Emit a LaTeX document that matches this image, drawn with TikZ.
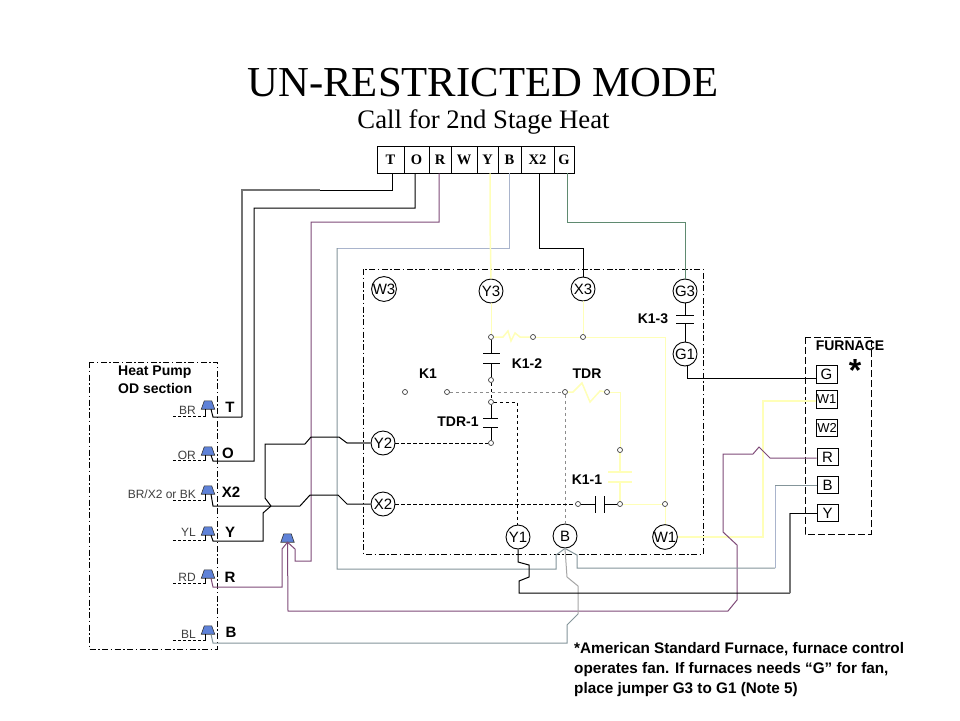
\documentclass[tikz,border=0pt]{standalone}
\usepackage{fontspec}
\setmainfont{Liberation Serif}
\setsansfont{Liberation Sans}
\definecolor{wyel}{HTML}{FFFFB8}
\definecolor{wpur}{HTML}{7F4A78}
\definecolor{wgry}{HTML}{84959A}
\definecolor{wblu}{HTML}{A9B4CC}
\definecolor{wgrn}{HTML}{5F8A70}
\definecolor{pinb}{HTML}{5F82D8}
\tikzset{
  wire/.style={line width=1pt,line join=miter},
  ywire/.style={line width=1.5pt,color=wyel},
  thick gray/.style={line width=1.5pt,color=black!55},
  cell/.style={draw,line width=0.9pt,inner sep=0pt,minimum height=27pt,font=\rmfamily\bfseries\fontsize{14.5}{14.5}\selectfont},
  conn/.style={circle,draw,fill=white,line width=0.9pt,inner sep=0pt,minimum size=24pt,font=\sffamily\fontsize{15}{15}\selectfont},
  contact/.style={circle,draw=black!75,fill=white,line width=0.7pt,inner sep=0pt,minimum size=5pt},
  fbox/.style={draw,line width=1pt,fill=white,inner sep=0pt,minimum width=21pt,minimum height=17.5pt,font=\sffamily\fontsize{15}{15}\selectfont},
  smallbox/.style={fbox,font=\sffamily\fontsize{13}{13}\selectfont},
  pinshape/.style={inner sep=0pt,minimum width=13pt,minimum height=8pt},
  pinfill/.style={draw=black!80,fill=pinb,line width=0.6pt},
  lab/.style={font=\sffamily\bfseries\fontsize{14}{18}\selectfont,inner sep=0pt},
  tlab/.style={font=\sffamily\bfseries\fontsize{15}{15}\selectfont,inner sep=0pt},
  wirelab/.style={font=\sffamily\fontsize{12}{12}\selectfont,color=black!75,inner sep=0pt,anchor=east},
  dashdot/.style={line width=0.8pt,dash pattern=on 6pt off 2.5pt on 1.5pt off 2.5pt},
  dashline/.style={line width=0.8pt,dash pattern=on 3.5pt off 2.5pt},
  gdash/.style={dashline,color=black!45},
  plate/.style={line width=1pt}
}
\begin{document}
\begin{tikzpicture}[x=1pt,y=-1pt]
\useasboundingbox (0,0) rectangle (960,720);
\fill[white] (0,0) rectangle (960,720);
% titles
\node[font=\rmfamily\fontsize{42.7}{42.7}\selectfont,inner sep=0pt] (title) at (483,83) {UN-RESTRICTED MODE};
\node[font=\rmfamily\fontsize{26.7}{26.7}\selectfont,inner sep=0pt] (subtitle) at (483.5,122) {Call for 2nd Stage Heat};
% outlines
\draw[dashdot] (363.5,269) rectangle (703,554);
\draw[dashdot] (89,362) rectangle (217,649);
\draw[line width=0.8pt,dash pattern=on 7pt off 3pt] (805,337) rectangle (871,534);
% thermostat strip
\node[cell,minimum width=27pt] (tT) at (390.5,159.5) {T};
\node[cell,minimum width=25pt] (tO) at (416.5,159.5) {O};
\node[cell,minimum width=22pt] (tR) at (440,159.5) {R};
\node[cell,minimum width=26pt] (tW) at (464,159.5) {W};
\node[cell,minimum width=21pt] (tY) at (487.5,159.5) {Y};
\node[cell,minimum width=23pt] (tB) at (509.5,159.5) {B};
\node[cell,minimum width=33pt] (tX) at (537.5,159.5) {X2};
\node[cell,minimum width=20pt] (tG) at (564,159.5) {G};
% circles
\node[conn] (W3) at (384,289) {W3};
\node[conn] (Y3) at (491,291) {Y3};
\node[conn] (X3) at (583,289) {X3};
\node[conn] (G3) at (685,291) {G3};
\node[conn] (G1) at (685,354) {G1};
\node[conn] (Y2) at (383,443) {Y2};
\node[conn] (X2) at (383,504) {X2};
\node[conn] (Y1) at (518,537) {Y1};
\node[conn] (B) at (565,536) {B};
\node[conn] (W1) at (665,537) {W1};
% furnace
\node[fbox] (fG) at (826.5,374.5) {G};
\node[smallbox] (fW1) at (826.5,399.5) {W1};
\node[smallbox] (fW2) at (827,428) {W2};
\node[fbox] (fR) at (827.5,457) {R};
\node[fbox] (fB) at (827.5,485) {B};
\node[fbox] (fY) at (827.5,513) {Y};
% pins
\foreach \n/\y in {T/405,O/451,X/490,Y/531,R/574,B/630,F/538}{
  \pgfmathsetmacro{\px}{ifthenelse(\y==538,287.5,208)}
  \node[pinshape] (p\n) at (\px,\y) {};
  \draw[pinfill] (p\n.south west) -- ([xshift=3pt]p\n.north west) -- ([xshift=-3pt]p\n.north east) -- (p\n.south east) -- cycle;
}
\foreach \n/\yy in {T/416,O/460,X/500,Y/540,R/583,B/640}{
  \coordinate (d\n) at (173,\yy);
  \draw[line width=0.7pt] ([xshift=-2.5pt]p\n.south) -- ([xshift=-2.5pt]p\n.south |- d\n);
  \draw[line width=0.7pt,dash pattern=on 3pt off 2pt] (d\n) -- ([xshift=-2.5pt]p\n.south |- d\n);
}
% contacts
\node[contact] (c1) at (491,337) {};
\node[contact] (c2) at (533,337) {};
\node[contact] (c3) at (583,337) {};
\node[contact] (c4) at (491,380) {};
\node[contact] (c5) at (491,402) {};
\node[contact] (c6) at (491,443) {};
\node[contact] (k1a) at (405,392) {};
\node[contact] (k1b) at (447,392) {};
\node[contact] (d1) at (565,392) {};
\node[contact] (d2) at (607,392) {};
\node[contact] (e1) at (620,450) {};
\node[contact] (e2) at (620,504) {};
\node[contact] (e3) at (578,504) {};
\node[contact] (e4) at (665,504) {};
% top wires
\draw[wire] ([xshift=1.5pt]tT.south) -- (392,190) -- (320,190);
\draw[thick gray] (320,190) -- (242,190) -- (242,417);
\draw[wire] (242,417) -- (213,417) -- ([xshift=3pt]pT.south);
\draw[wire] ([xshift=-1.5pt]tO.south) -- (415,208) -- (254,208) -- (254,461) -- (213,461) -- ([xshift=3pt]pO.south);
\draw[wire,color=wpur] ([xshift=-1pt]tR.south) -- (439,222) -- (311,222) -- (311,561) -- (295,561) -- (295,549) -- (pF.south) -- (282,549) -- (282,587) -- (213,587) -- ([xshift=3pt]pR.south);
\draw[wire,color=wblu] (tB.south) -- (509.5,248) -- (337,248);
\draw[wire,color=wgry] (337,248) -- (337,569) -- (556,569) -- (556,555) -- (B.south);
\draw[wire] ([xshift=1.5pt]tX.south) -- (539,248) -- (583,248) -- (X3.north);
\draw[wire,color=wgrn] ([xshift=3pt]tG.south) -- (567,222) -- (685,222) -- (G3.north);
\draw[ywire] ([xshift=2.5pt]tY.south) -- (490,222) -- (Y3.north);
% yellow circuit
\draw[ywire,line width=1pt] (Y3.south) -- (c1);
\draw[ywire,line width=1pt] (X3.south) -- (c3);
\draw[ywire] (c1) -- (503,337) -- (508,331) -- (511,341) -- (515,333) -- (520,337) -- (c2);
\draw[ywire,line width=1pt] (c2) -- (c3) -- (665,337) -- (e4);
\draw[ywire,line width=1pt] (e4) -- (W1.north);
\draw[ywire,line width=1pt] (e2) -- (e4);
\draw[ywire] (d1) -- (573,392) -- (582,383) -- (590,402) -- (600,391) -- (d2);
\draw[ywire,line width=1pt] (d2) -- (620,392) -- (e1);
\draw[ywire] (e1) -- (620,472) (620,482) -- (e2);
\draw[ywire] (608,472) -- (632,472) (608,482) -- (632,482);
\draw[ywire] (W1.east) -- (763,537) -- (763,401) -- ([yshift=-1.5pt]fW1.west);
% K1-3
\draw[plate] (G3.south) -- (685,315);
\draw[plate] (676,315) -- (694,315);
\draw[plate] (676,323) -- (694,323);
\draw[plate] (685,323) -- (G1.north);
% K1-2
\draw[plate] (c1) -- (491,353);
\draw[plate] (483,353) -- (500,353);
\draw[plate] (483,363) -- (500,363);
\draw[plate] (491,363) -- (c4);
% TDR-1
\draw[dashline] (c4) -- (c5);
\draw[plate] (c5) -- (491,418);
\draw[plate] (483,418) -- (498,418);
\draw[plate] (483,427) -- (498,427);
\draw[plate] (491,427) -- (c6);
\draw[dashline] (Y2.east) -- (c6);
\draw[dashline] (c5) -- (517,402) -- (517,525);
% K1, TDR dashes
\draw[gdash] (k1b) -- (d1);
\draw[gdash] (d1) -- (B.north);
% K1-1
\draw[dashline] (X2.east) -- (e3);
\draw[plate] (e3) -- (595,504);
\draw[plate] (595,496) -- (595,513);
\draw[plate] (604,496) -- (604,513);
\draw[plate] (604,504) -- (e2);
% G1 to furnace
\draw[wire] ([xshift=2pt]G1.south) -- (687,378) -- ([yshift=-3.5pt]fG.west);
% Y2 / X2 crossing to the heat pump
\draw[thick gray] (Y2.west) -- (347,443);
\draw[wire] (347,443) -- (339,437) -- (311,437) -- (305,444) -- (265,444) -- (265,498) -- (271,506);
\draw[wire] (X2.west) -- (347,504) -- (338,495) -- (310,495) -- (300,506) -- (213,506) -- ([xshift=3pt]pX.south);
\draw[wire] ([xshift=3pt]pY.south) -- (213,541) -- (263,541) -- (263,513) -- (271,506);
% jumper to furnace R
\draw[wire,color=wpur] (pF.south) -- (288,611) -- (728,611) -- (737,600) -- (737,545) -- (723,532) -- (723,454) -- (753,454) -- (759,447) -- (770,458) -- ([yshift=-1pt]fR.west);
% B wires
\draw[wire,color=wgry] (B.south) -- (577,555) -- (577,568) -- (775,568);
\draw[wire,color=wblu] (775,568) -- (775,485);
\draw[wire,color=wgry] (775,485) -- (fB.west);
\draw[wire,color=black!35] (B.south) -- (567,577) -- (578,586) -- (578,614);
\draw[wire,color=wgry] (578,614) -- (567,625) -- (567,643) -- (213,643) -- ([xshift=3pt]pB.south);
% Y1 wire
\draw[wire] (Y1.south) -- (518,562) -- (529,565) -- (529,577) -- (519,581) -- (519,593) -- (790,593);
\draw[thick gray] (790,593) -- (790,513);
\draw[wire] (790,513) -- (fY.west);
% labels
\node[lab,align=left,anchor=north west] (hp) at (118,366) {Heat Pump\\OD section};
\node[lab] (lfur) at (850,346) {FURNACE};
\node[font=\sffamily\bfseries\fontsize{32}{32}\selectfont,inner sep=0pt] (star) at (855,370) {*};
\node[lab] (lk13) at (653,319) {K1-3};
\node[lab] (lk12) at (527,364) {K1-2};
\node[lab] (lk1) at (428,374) {K1};
\node[lab] (ltdr) at (587,374) {TDR};
\node[lab] (ltdr1) at (458,422) {TDR-1};
\node[lab] (lk11) at (587,480) {K1-1};
\node[tlab] (lT) at (230,407) {T};
\node[tlab] (lO) at (228,453) {O};
\node[tlab] (lX) at (231,492) {X2};
\node[tlab] (lY) at (230,532) {Y};
\node[tlab] (lR) at (230,577) {R};
\node[tlab] (lB) at (231,632) {B};
\node[wirelab] (wT) at (196,410) {BR};
\node[wirelab] (wO) at (196,455) {OR};
\node[wirelab] (wX) at (196,494) {BR/X2 or BK};
\node[wirelab] (wY) at (196,532) {YL};
\node[wirelab] (wR) at (196,577) {RD};
\node[wirelab] (wB) at (196,634) {BL};
\node[font=\sffamily\bfseries\fontsize{15.3}{20}\selectfont,inner sep=0pt,align=left,anchor=north west] (note) at (574,642) {*American Standard Furnace, furnace control\\operates fan.  If furnaces needs “G” for fan,\\place jumper G3 to G1 (Note 5)};
\end{tikzpicture}
\end{document}
